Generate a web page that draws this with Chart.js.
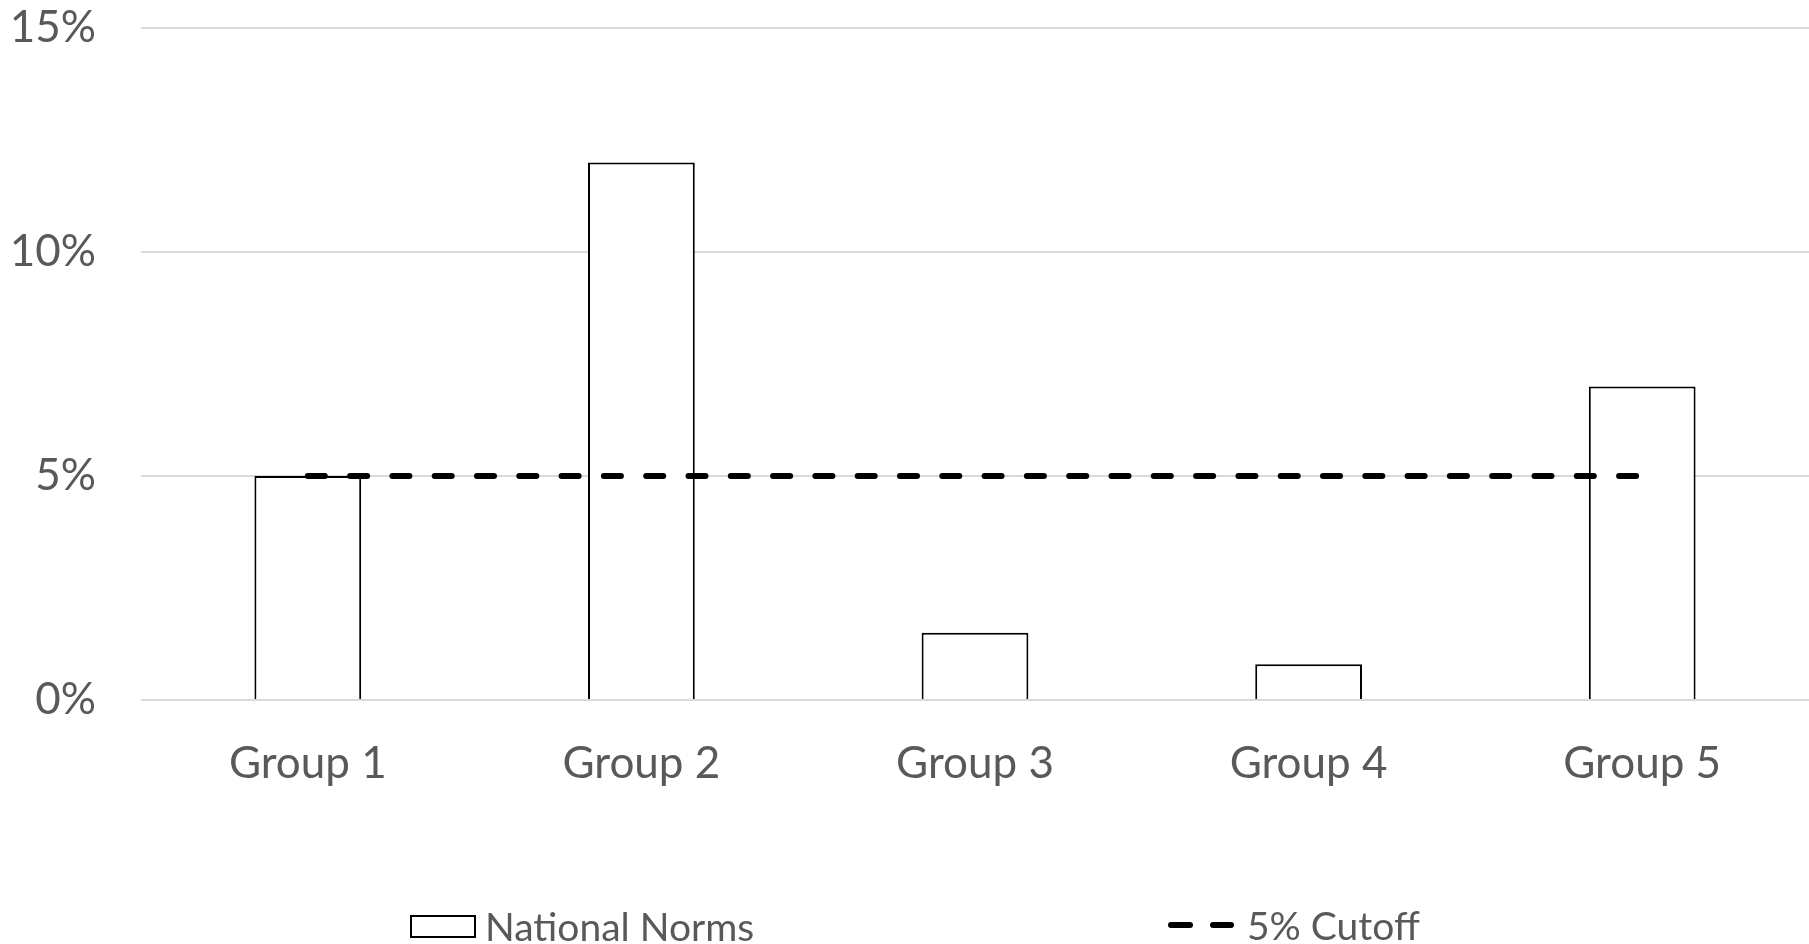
<!DOCTYPE html>
<html><head><meta charset="utf-8">
<script src="https://cdn.jsdelivr.net/npm/chart.js@4.4.1/dist/chart.umd.min.js"></script>
<style>
html,body{margin:0;padding:0;background:#fff;overflow:hidden;}
#wrap{position:relative;width:1809px;height:944px;}
canvas{position:absolute;left:0;top:0;}
.leg{position:absolute;font-family:Lato,'Noto Sans',sans-serif;font-size:39px;color:#595959;display:flex;align-items:center;height:40px;white-space:nowrap;}
</style></head><body>
<div id="wrap"><canvas id="c" width="1809" height="944"></canvas>
<div class="leg" style="left:410px;top:906px;"><span style="display:inline-block;box-sizing:border-box;width:66px;height:23px;border:2px solid #000;background:#fff;margin-right:9px"></span><span id="l1"></span></div>
<div class="leg" style="left:1168px;top:905px;"><svg width="66" height="10" style="margin-right:13px"><line x1="3" y1="5" x2="63" y2="5" stroke="#000" stroke-width="6" stroke-dasharray="19 23" stroke-linecap="round"/></svg><span id="l2"></span></div>
</div>
<script>
const categories = ['Group 1', 'Group 2', 'Group 3', 'Group 4', 'Group 5'];
const nationalNorms = [5, 12, 1.5, 0.8, 7];
const cutoff = [5, 5, 5, 5, 5];
const yTickValues = [0, 5, 10, 15];
const yTickLabels = ['0%', '5%', '10%', '15%'];
const seriesNames = ['National Norms', '5% Cutoff'];

document.getElementById('l1').textContent = seriesNames[0];
document.getElementById('l2').textContent = seriesNames[1];

const FONT = 'Lato, "Noto Sans", sans-serif';
new Chart(document.getElementById('c'), {
  type: 'bar',
  data: {
    labels: categories,
    datasets: [
      {
        type: 'line', label: seriesNames[1], data: cutoff,
        borderColor: '#000', borderWidth: 6, borderDash: [17, 25.3], borderCapStyle: 'round',
        pointRadius: 0, fill: false, tension: 0, order: 0
      },
      {
        type: 'bar', label: seriesNames[0], data: nationalNorms,
        backgroundColor: '#fff', borderColor: '#000', borderWidth: 2,
        categoryPercentage: 0.32, barPercentage: 1, order: 1
      }
    ]
  },
  options: {
    responsive: false, animation: false, devicePixelRatio: 1,
    layout: { padding: { top: 28, right: 0, bottom: 154, left: 0 } },
    plugins: { legend: { display: false }, tooltip: { enabled: false } },
    scales: {
      x: {
        afterFit: s => { s.height = 90; s.paddingLeft = 0; s.paddingRight = 0; },
        grid: { display: false, drawTicks: false }, border: { display: false },
        ticks: { font: { family: FONT, size: 44 }, color: '#595959', padding: 37 }
      },
      y: {
        min: yTickValues[0], max: yTickValues[yTickValues.length - 1],
        afterBuildTicks: s => { s.ticks = yTickValues.map(v => ({ value: v })); },
        afterFit: s => { s.width = 141; s.paddingTop = 0; s.paddingBottom = 0; },
        grid: { color: '#d9d9d9', lineWidth: 2, drawTicks: false },
        border: { display: false },
        ticks: {
          font: { family: FONT, size: 44 }, color: '#595959', padding: 45,
          callback: v => yTickLabels[yTickValues.indexOf(v)]
        }
      }
    }
  }
});
</script>
</body></html>
